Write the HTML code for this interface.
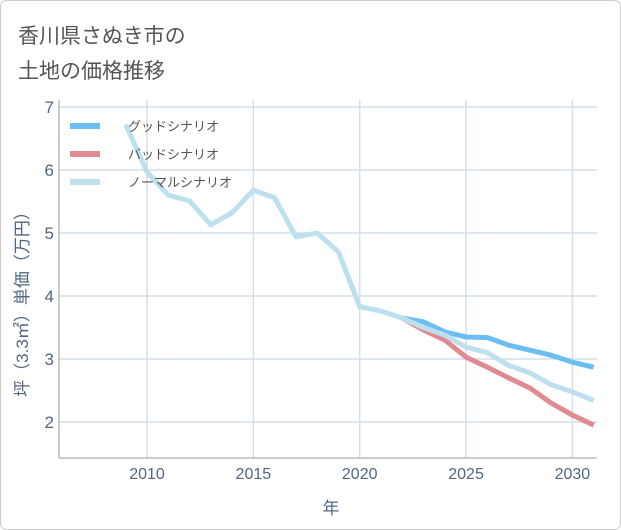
<!DOCTYPE html>
<html><head><meta charset="utf-8"><style>
body{margin:0;background:#fff;}
svg{display:block;font-family:"Liberation Sans","Noto Sans CJK JP",sans-serif;}
</style></head><body>
<svg id="chart" width="621" height="530">
<rect x="0.5" y="0.5" width="620" height="529" rx="6" fill="#fff" stroke="#ccc"/>
<text x="18" y="43" font-size="21" fill="#555">香川県さぬき市の</text>
<text x="18" y="78" font-size="21" fill="#555">土地の価格推移</text>
<g id="grid"></g>
<defs><clipPath id="clip"><rect x="59" y="100" width="538" height="358"/></clipPath></defs>
<g id="series" clip-path="url(#clip)"></g>
<g id="axes"></g>
<text x="331" y="514" font-size="17" fill="#506784" text-anchor="middle">年</text>
<text transform="translate(28,300) rotate(-90)" font-size="17" fill="#506784" text-anchor="middle">坪（3.3㎡）単価（万円）</text>
<g>
<line x1="70" y1="126" x2="100" y2="126" stroke="#6bbdf3" stroke-width="6"/>
<text x="128" y="131" font-size="13" fill="#555">グッドシナリオ</text>
<line x1="70" y1="154" x2="100" y2="154" stroke="#e08a92" stroke-width="6"/>
<text x="128" y="159" font-size="13" fill="#555">バッドシナリオ</text>
<line x1="70" y1="182" x2="100" y2="182" stroke="#bde0ef" stroke-width="6"/>
<text x="128" y="187" font-size="13" fill="#555">ノーマルシナリオ</text>
</g>
</svg>
<script>
const normalYears=[2009,2010,2011,2012,2013,2014,2015,2016,2017,2018,2019,2020,2021,2022,2023,2024,2025,2026,2027,2028,2029,2030,2031];
const normalVals=[6.72,5.97,5.6,5.51,5.13,5.32,5.68,5.56,4.94,5.0,4.7,3.83,3.76,3.65,3.5,3.38,3.19,3.1,2.9,2.78,2.59,2.48,2.34];
const scenYears=[2022,2023,2024,2025,2026,2027,2028,2029,2030,2031];
const goodVals=[3.65,3.59,3.43,3.35,3.34,3.22,3.14,3.06,2.95,2.87];
const badVals=[3.65,3.46,3.3,3.03,2.87,2.70,2.54,2.3,2.11,1.95];
const xTicks=[2010,2015,2020,2025,2030];
const yTicks=[2,3,4,5,6,7];
const NS='http://www.w3.org/2000/svg';
const X=y=>147+(y-2010)*21.27;
const Y=v=>422-(v-2)*63;
const grid=document.getElementById('grid'),axes=document.getElementById('axes'),ser=document.getElementById('series');
function mk(tag,attrs,parent){const e=document.createElementNS(NS,tag);for(const k in attrs)e.setAttribute(k,attrs[k]);parent.appendChild(e);return e;}
xTicks.forEach(t=>{
 const l=mk('line',{x1:X(t),x2:X(t),y1:100,y2:458,stroke:'#d3dfea','stroke-width':1.5},grid);
 
 
 const tx=mk('text',{x:X(t),y:479,'font-size':16,fill:'#506784','text-anchor':'middle'},axes);tx.textContent=t;
 
 
});
yTicks.forEach(t=>{
 const l=mk('line',{x1:59,x2:597,y1:Y(t),y2:Y(t),stroke:'#d3dfea','stroke-width':1.5},grid);
 
 
 const tx=mk('text',{x:54,y:Y(t)+6,'font-size':17,fill:'#506784','text-anchor':'end'},axes);tx.textContent=t;
 
 
});
const ax=mk('path',{d:'M59,100 L59,458 L597,458',fill:'none',stroke:'#999','stroke-width':1},axes);


function line(xs,vs,color,name){
 const p=mk('polyline',{points:xs.map((x,i)=>X(x)+','+Y(vs[i])).join(' '),fill:'none',stroke:color,'stroke-width':5,'stroke-linejoin':'round'},ser);
 
 
}
line(scenYears,goodVals,'#6bbdf3','good-scenario-line');
line(scenYears,badVals,'#e08a92','bad-scenario-line');
line(normalYears,normalVals,'#bde0ef','normal-scenario-line');
</script>
</body></html>
